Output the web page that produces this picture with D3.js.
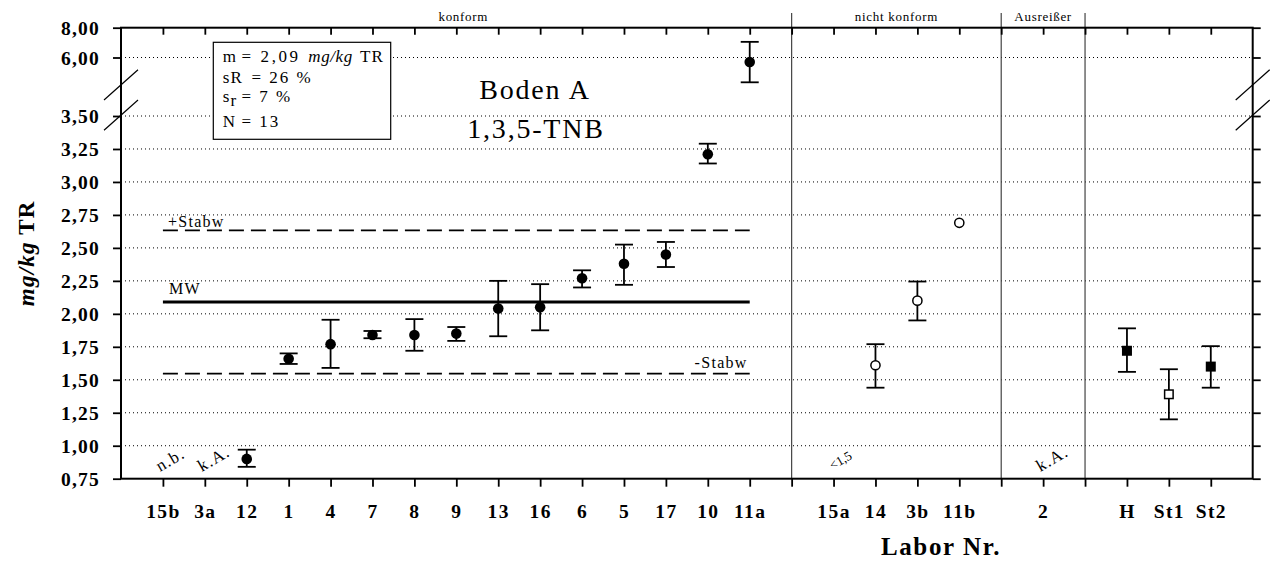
<!DOCTYPE html>
<html><head><meta charset="utf-8">
<script src="https://cdn.jsdelivr.net/npm/d3@7"></script>
<style>
body{margin:0;background:#fff;}
text{font-family:"Liberation Serif","Times New Roman",serif;fill:#000;}
</style></head>
<body>
<svg id="chart" width="1274" height="563"></svg>
<script>
// ---- data ----
const categories = ["15b","3a","12","1","4","7","8","9","13","16","6","5","17","10","11a","|",
                    "15a","14","3b","11b","|","2","|","H","St1","St2"];
const groupLabels = ["konform","nicht konform","Ausreißer"];
const yTicks = [0.75,1.00,1.25,1.50,1.75,2.00,2.25,2.50,2.75,3.00,3.25,3.50,6.00,8.00];

const konformLabs = ["12","1","4","7","8","9","13","16","6","5","17","10","11a"];
const konformMean = [0.90,1.66,1.77,1.84,1.84,1.85,2.04,2.05,2.27,2.38,2.45,3.21,5.81];
const konformLow  = [0.84,1.62,1.59,1.815,1.72,1.795,1.83,1.875,2.20,2.22,2.355,3.14,4.94];
const konformHigh = [0.97,1.70,1.955,1.87,1.96,1.90,2.25,2.225,2.33,2.525,2.545,3.29,7.05];

const nkLabs = ["14","3b","11b"];
const nkMean = [1.61,2.10,2.69];
const nkLow  = [1.44,1.95,null];
const nkHigh = [1.77,2.245,null];

const refLabs = ["H","St1","St2"];
const refMean = [1.72,1.39,1.60];
const refLow  = [1.56,1.20,1.44];
const refHigh = [1.89,1.58,1.755];
const refFilled = [true,false,true];

const meanMW = 2.09;
const stabwPlus = 2.633;
const stabwMinus = 1.547;

const notes = [["15b","n.b."],["3a","k.A."],["15a","<1,5"],["2","k.A."]];

// ---- layout ----
const svg = d3.select("#chart");
const L = 121, R = 1252.7, T = 27.7, B = 478.7;
const x = d3.scaleLinear().domain([0, categories.length + 1]).range([L, R]);
const y = d3.scaleLinear().domain([0.75, 3.5, 6, 8]).range([B, 116, 57.5, T]);
const xOf = lab => x(categories.indexOf(lab) + 1);
const fmt = v => d3.format(".2f")(v).replace(".", ",");

// gridlines
svg.append("g").selectAll("line").data(yTicks.filter(v => v > 0.75 && v < 8))
  .join("line").attr("x1", L).attr("x2", R).attr("y1", d => y(d)).attr("y2", d => y(d))
  .attr("stroke", "#000").attr("stroke-width", 1).attr("stroke-dasharray", "1,3");

// separators
categories.forEach((c, i) => {
  if (c === "|") {
    svg.append("line").attr("x1", x(i + 1)).attr("x2", x(i + 1)).attr("y1", 13).attr("y2", B)
      .attr("stroke", "#444").attr("stroke-width", 1.2);
  }
});

// group labels
const sepIdx = categories.map((c, i) => c === "|" ? i + 1 : null).filter(v => v !== null);
const bounds = [0, ...sepIdx];
groupLabels.forEach((g, i) => {
  let cx = (x(bounds[i]) + x(bounds[i + 1])) / 2;
  if (i === 0) cx += 7;
  svg.append("text").attr("x", cx).attr("y", 20.5).attr("text-anchor", "middle")
    .attr("font-size", 13).attr("letter-spacing", 0.7).text(g);
});

// frame / axes
const yAxisL = d3.axisLeft(y).tickValues(yTicks).tickSize(8).tickFormat(fmt);
const gl = svg.append("g").attr("transform", `translate(${L},0)`).call(yAxisL);
gl.selectAll("text").attr("font-size", 19.5).attr("font-weight", "bold")
  .attr("font-family", "Liberation Serif, serif").attr("letter-spacing", 1.2).attr("x", -21).attr("dy", "0.34em");
const yAxisR = d3.axisRight(y).tickValues(yTicks).tickSize(8).tickFormat("");
const gr = svg.append("g").attr("transform", `translate(${R},0)`).call(yAxisR);

const tickIdx = d3.range(1, categories.length + 1);
const xAxisB = d3.axisBottom(x).tickValues(tickIdx).tickSize(8)
  .tickFormat(d => categories[d - 1] === "|" ? "" : categories[d - 1]);
const gb = svg.append("g").attr("transform", `translate(0,${B})`).call(xAxisB);
gb.selectAll("text").attr("font-size", 19.5).attr("font-weight", "bold")
  .attr("font-family", "Liberation Serif, serif").attr("letter-spacing", 1.4).attr("y", 25);
const xAxisT = d3.axisBottom(x).tickValues(tickIdx).tickSize(7).tickFormat("");
const gt = svg.append("g").attr("transform", `translate(0,${T})`).call(xAxisT);

[gl, gr, gb, gt].forEach(g => {
  g.select(".domain").remove();
  g.selectAll(".tick line").attr("stroke", "#000").attr("stroke-width", 1.8);
  g.selectAll("text").attr("fill", "#000");
});
svg.append("rect").attr("x", L).attr("y", T).attr("width", R - L).attr("height", B - T)
  .attr("fill", "none").attr("stroke", "#000").attr("stroke-width", 2);

// axis breaks
[L, R].forEach(ax => {
  [[100, 69.7], [130.3, 100]].forEach(([ya, yb]) => {
    svg.append("line").attr("x1", ax - 17).attr("x2", ax + 17).attr("y1", ya).attr("y2", yb)
      .attr("stroke", "#000").attr("stroke-width", 1.2);
  });
});

// reference lines
const x0 = xOf("15b"), x1 = xOf("11a");
svg.append("line").attr("x1", x0).attr("x2", x1).attr("y1", y(meanMW)).attr("y2", y(meanMW))
  .attr("stroke", "#000").attr("stroke-width", 3);
[stabwPlus, stabwMinus].forEach(v => {
  svg.append("line").attr("x1", x0).attr("x2", x1).attr("y1", y(v)).attr("y2", y(v))
    .attr("stroke", "#000").attr("stroke-width", 1.6).attr("stroke-dasharray", "15,7");
});
svg.append("text").attr("x", x0 + 5).attr("y", y(stabwPlus) - 3.5).attr("font-size", 16)
  .attr("letter-spacing", 1.3).text("+Stabw");
svg.append("text").attr("x", x0 + 6).attr("y", y(meanMW) - 8).attr("font-size", 16)
  .attr("letter-spacing", 1.3).text("MW");
svg.append("text").attr("x", x1 - 2).attr("y", y(stabwMinus) - 6).attr("font-size", 16)
  .attr("text-anchor", "end").attr("letter-spacing", 1.3).text("-Stabw");

// error bars helper
function errBar(cx, lo, hi) {
  if (lo == null || hi == null) return;
  const g = svg.append("g").attr("stroke", "#000").attr("stroke-width", 1.8);
  g.append("line").attr("x1", cx).attr("x2", cx).attr("y1", y(lo)).attr("y2", y(hi));
  g.append("line").attr("x1", cx - 9).attr("x2", cx + 9).attr("y1", y(lo)).attr("y2", y(lo));
  g.append("line").attr("x1", cx - 9).attr("x2", cx + 9).attr("y1", y(hi)).attr("y2", y(hi));
}

konformLabs.forEach((lab, i) => {
  errBar(xOf(lab), konformLow[i], konformHigh[i]);
  svg.append("circle").attr("cx", xOf(lab)).attr("cy", y(konformMean[i])).attr("r", 5.3).attr("fill", "#000");
});
nkLabs.forEach((lab, i) => {
  errBar(xOf(lab), nkLow[i], nkHigh[i]);
  svg.append("circle").attr("cx", xOf(lab)).attr("cy", y(nkMean[i])).attr("r", 4.6)
    .attr("fill", "#fff").attr("stroke", "#000").attr("stroke-width", 1.5);
});
refLabs.forEach((lab, i) => {
  errBar(xOf(lab), refLow[i], refHigh[i]);
  const s = refFilled[i] ? 10 : 8.5;
  svg.append("rect").attr("x", xOf(lab) - s / 2).attr("y", y(refMean[i]) - s / 2)
    .attr("width", s).attr("height", s)
    .attr("fill", refFilled[i] ? "#000" : "#fff").attr("stroke", "#000").attr("stroke-width", refFilled[i] ? 0 : 1.5);
});

// rotated notes
notes.forEach(([lab, t]) => {
  const small = t.startsWith("<");
  svg.append("text").attr("transform", `translate(${xOf(lab) - (small ? 1 : 3)},${small ? 470 : 472}) rotate(-30)`)
    .attr("font-size", small ? 13 : 17).attr("letter-spacing", small ? 0 : 1.2).text(t);
});

// legend box
svg.append("rect").attr("x", 213.3).attr("y", 42.3).attr("width", 177.4).attr("height", 97)
  .attr("fill", "#fff").attr("stroke", "#000").attr("stroke-width", 1.2);
const lg = svg.append("g").attr("font-size", 17).attr("letter-spacing", 1.2);
const l1 = lg.append("text").attr("y", 62);
l1.append("tspan").attr("x", 222.7).text("m");
l1.append("tspan").attr("x", 241.5).attr("letter-spacing", 2.6).text("= 2,09");
l1.append("tspan").attr("x", 308.3).attr("font-style", "italic").attr("letter-spacing", 0.6).text("mg/kg");
l1.append("tspan").attr("x", 360).text("TR");
const l2 = lg.append("text").attr("y", 83);
l2.append("tspan").attr("x", 222.7).text("sR");
l2.append("tspan").attr("x", 251.5).attr("letter-spacing", 2).text("= 26 %");
const l3 = lg.append("text").attr("y", 102);
l3.append("tspan").attr("x", 222.7).text("s");
l3.append("tspan").attr("dy", 4).text("r");
l3.append("tspan").attr("x", 241.5).attr("dy", -4).attr("letter-spacing", 2).text("= 7 %");
const l4 = lg.append("text").attr("y", 127);
l4.append("tspan").attr("x", 222.7).text("N");
l4.append("tspan").attr("x", 241.5).attr("letter-spacing", 2).text("= 13");

// title
svg.append("text").attr("x", 535).attr("y", 99.3).attr("text-anchor", "middle")
  .attr("font-size", 28).attr("letter-spacing", 1.8).text("Boden A");
svg.append("text").attr("x", 536).attr("y", 138.3).attr("text-anchor", "middle")
  .attr("font-size", 28).attr("letter-spacing", 1.8).text("1,3,5-TNB");

// axis titles
const yt = svg.append("text").attr("transform", "translate(34,253.3) rotate(-90)")
  .attr("text-anchor", "middle").attr("font-size", 23).attr("font-weight", "bold").attr("letter-spacing", 1.2);
yt.append("tspan").attr("font-style", "italic").text("mg/kg");
yt.append("tspan").text(" TR");
svg.append("text").attr("x", 941).attr("y", 555).attr("text-anchor", "middle")
  .attr("font-size", 25).attr("font-weight", "bold").attr("letter-spacing", 1.6).text("Labor Nr.");
</script>
</body></html>
